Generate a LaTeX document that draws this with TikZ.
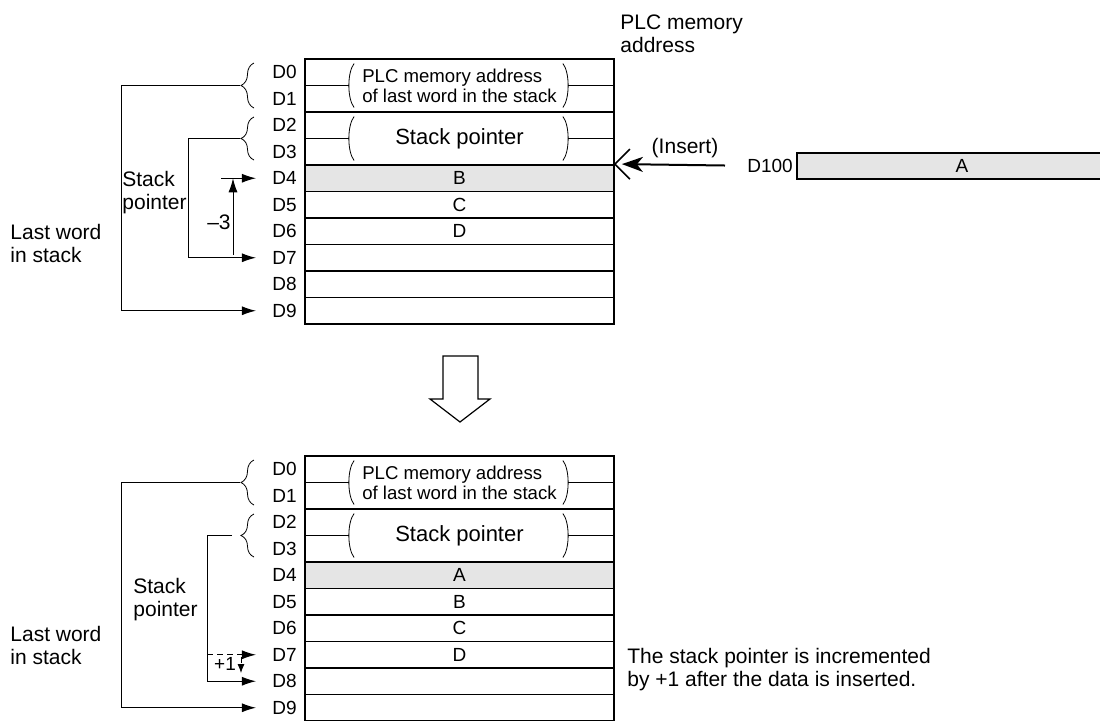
\documentclass[tikz,border=0pt]{standalone}
\usepackage{fontspec}
\setmainfont{Liberation Sans}
\usetikzlibrary{arrows.meta,decorations.pathreplacing,positioning}
\definecolor{cellgray}{gray}{0.9}
\tikzset{
  lbl/.style={font=\fontsize{10.5}{11.5}\selectfont,align=left,inner sep=0pt,anchor=west},
  addr/.style={font=\fontsize{9.5}{11}\selectfont,inner sep=0pt,anchor=east},
  cell/.style={draw,line width=0.9pt,minimum width=154.5pt,minimum height=13.25pt,
    inner sep=0pt,font=\fontsize{9.5}{11}\selectfont},
  blk/.style={cell,minimum height=26.5pt},
  ptr/.style={line width=0.5pt,-{Latex[length=7pt,width=4.5pt]}},
  toaddr/.style={ptr,shorten >=8pt},
  brc/.style={decorate,decoration={brace,amplitude=6.5pt},line width=0.4pt},
}
% half-brackets and split line of a two-word block
\newcommand{\lidpair}[1]{%
  \draw[line width=0.6pt] (#1.west) -- ++(45,0);
  \draw[line width=0.6pt] (#1.east) -- ++(-47,0);
  \draw[line width=0.4pt] ([shift={(50,-22)}]#1.west) .. controls +(-7,9) and +(-7,-9) .. ([shift={(50,22)}]#1.west);
  \draw[line width=0.4pt] ([shift={(-52,-22)}]#1.east) .. controls +(7,9) and +(7,-9) .. ([shift={(-52,22)}]#1.east);
}
\begin{document}
\begin{tikzpicture}[x=0.5pt,y=-0.5pt]
  \useasboundingbox (0,0) rectangle (1100,720);
  % header
  \node[lbl,anchor=north west] (hdr) at (620,14) {PLC memory\\address};

  % upper stack
  \node[blk,font=\fontsize{9.3}{10}\selectfont,align=left] (t01) at (459.5,85.5) {PLC memory address\\of last word in the stack};
  \node[blk,font=\fontsize{11}{12}\selectfont] (t23) at (459.5,138.5) {Stack pointer};
  \node[cell,fill=cellgray] (t4) at (459.5,178.25) {B};
  \foreach \i/\v in {5/C,6/D,7/{},8/{},9/{}}
    \node[cell] (t\i) at (459.5,{72.25+26.5*\i}) {\v};
  \lidpair{t01}
  \lidpair{t23}
  \foreach \i in {0,...,9}
    \node[addr] (ta\i) at (297,{72.25+26.5*\i}) {D\i};

  % braces and pointers (upper)
  \draw[brc] (254,108) -- (254,63);
  \draw[brc] (254,160) -- (254,117);
  \coordinate (tb01) at (240,85.5);
  \coordinate (tb23) at (240,138.5);
  \draw[toaddr] (tb01) -- ++(-119,0) |- (ta9.west);
  \draw[toaddr] (tb23) -- ++(-52,0) |- (ta7.west);
  \coordinate (m3a) at (233,255);
  \coordinate (m3b) at (221,178.25);
  \draw[ptr] (m3a) -- (m3a |- ta4);
  \draw[toaddr] (m3b) -- (ta4.west);
  \node[lbl,anchor=center] (m3) at (219,222) {\textendash3};
  \node[lbl] (tsp) at (122,193) {Stack\\pointer};
  \node[lbl] (tlw) at (10,243) {Last word\\in stack};

  % insert
  \coordinate (ins) at (725,165.5);
  \draw[line width=1pt,-{Stealth[length=10.5pt,width=7.5pt,inset=3pt]}] (ins) -- ([xshift=3.5pt]t4.north east);
  \draw[line width=0.8pt] ([shift={(15,-15)}]t4.north east) -- (t4.north east) -- ([shift={(15,15)}]t4.north east);
  \node[lbl,anchor=center] (insl) at (685,148) {(Insert)};
  \node[addr,anchor=center] (d100) at (770,166) {D100};
  \node[cell,fill=cellgray,minimum width=165pt] (boxA) at (962,166) {A};

  % block arrow
  \draw[line width=0.6pt] (443,356) -- (478,356) -- (478,399) -- (490,399) -- (460,422)
    -- (430,399) -- (443,399) -- cycle;

  % lower stack
  \node[blk,font=\fontsize{9.3}{10}\selectfont,align=left] (b01) at (459.5,482.5) {PLC memory address\\of last word in the stack};
  \node[blk,font=\fontsize{11}{12}\selectfont] (b23) at (459.5,535.5) {Stack pointer};
  \node[cell,fill=cellgray] (b4) at (459.5,575.25) {A};
  \foreach \i/\v in {5/B,6/C,7/D,8/{},9/{}}
    \node[cell] (b\i) at (459.5,{469.25+26.5*\i}) {\v};
  \lidpair{b01}
  \lidpair{b23}
  \foreach \i in {0,...,9}
    \node[addr] (ba\i) at (297,{469.25+26.5*\i}) {D\i};

  % braces and pointers (lower)
  \draw[brc] (254,505) -- (254,460);
  \draw[brc] (254,557) -- (254,514);
  \coordinate (bb01) at (240,482.5);
  \coordinate (bb23) at (232,535.5);
  \draw[toaddr] (bb01) -- ++(-119,0) |- (ba9.west);
  \draw[toaddr] (bb23) -- ++(-25,0) coordinate (bsp) |- (ba8.west);
  \draw[toaddr,densely dashed] (bsp |- ba7) -- (ba7.west);
  \coordinate (p1a) at (241,657);
  \draw[densely dashed,line width=0.4pt,-{Latex[length=4.5pt,width=3.5pt]}] (p1a) -- ++(0,16);
  \node[lbl,anchor=center,font=\fontsize{9.5}{11}\selectfont] (p1) at (225,664) {+1};
  \node[lbl] (bsp) at (133,600) {Stack\\pointer};
  \node[lbl] (blw) at (10,645) {Last word\\in stack};
  \node[lbl] (note) at (627,670) {The stack pointer is incremented\\by +1 after the data is inserted.};
\end{tikzpicture}
\end{document}
